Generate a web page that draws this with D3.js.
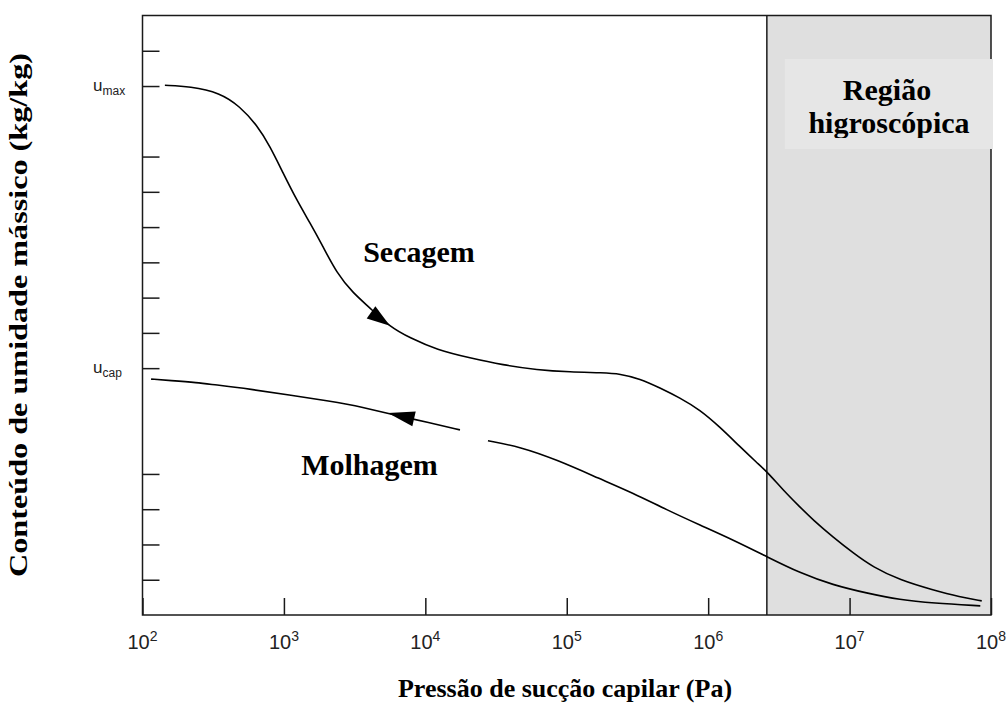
<!DOCTYPE html>
<html>
<head>
<meta charset="utf-8">
<script src="https://cdn.jsdelivr.net/npm/d3@7"></script>
<style>
  body { margin: 0; background: #fff; }
  svg { display: block; }
</style>
</head>
<body>
<svg id="chart" width="1007" height="706"></svg>
<script>
// Capillary suction pressure decades (Pa)
const xTickValues = [1e2, 1e3, 1e4, 1e5, 1e6, 1e7, 1e8];
const xTickExponents = ["2", "3", "4", "5", "6", "7", "8"];

// Moisture content ticks on a relative scale, with the two named levels
const yTickValues = [1, 2, 3, 4, 7, 8, 9, 10, 11, 12, 13, 15, 16];
const yNamedLevels = [15, 7];
const yNamedSub = ["max", "cap"];

// Start of the hygroscopic region (Pa)
const hygroscopicStart = 2.6e6;

// Drying curve (Secagem): pressure in Pa, moisture content
const dryingP = [144, 217, 353, 489, 642, 798, 984, 1230, 1528, 1888, 2360, 3078, 4062, 5623, 7793,
  12080, 20680, 35400, 61600, 105500, 180400, 237800, 329400, 456000, 630000, 873000,
  1.21e6, 1.68e6, 2.22e6, 2.61e6, 3.38e6, 4.46e6, 5.51e6, 7.63e6, 1.06e7, 1.46e7, 2.27e7,
  3.88e7, 6.03e7, 8.6e7];
const dryingU = [15.02, 14.99, 14.81, 14.42, 13.90, 13.29, 12.54, 11.77, 11.12, 10.45, 9.70, 9.13, 8.71, 8.17, 7.86,
  7.52, 7.29, 7.09, 6.95, 6.89, 6.87, 6.84, 6.70, 6.44, 6.16, 5.82,
  5.33, 4.77, 4.31, 4.06, 3.55, 3.06, 2.70, 2.21, 1.76, 1.36, 0.99,
  0.71, 0.51, 0.40];

// Wetting curve (Molhagem); the null marks the break in the line
const wettingP = [115, 157, 242, 335, 489, 2495, 3453, 5623, 10800, 17580, 22000,
  27730, 46700, 85300, 171800, 293800, 511000, 875000, 1.50e6, 2.61e6, 4.46e6, 7.63e6,
  1.32e7, 2.27e7, 3.88e7, 8.4e7];
const wettingU = [6.69, 6.65, 6.59, 6.52, 6.45, 6.02, 5.91, 5.70, 5.45, 5.25, null,
  4.94, 4.77, 4.40, 3.86, 3.46, 2.98, 2.55, 2.13, 1.65, 1.19, 0.85,
  0.62, 0.43, 0.34, 0.26];

// Direction arrows: [drying, wetting], from tail to tip
const arrowTailP = [4130, 8320];
const arrowTailU = [8.58, 5.56];
const arrowTipP = [5620, 5445];
const arrowTipU = [8.20, 5.73];

// Curve names and their label anchors (text centre, baseline)
const curveNames = ["Secagem", "Molhagem"];
const curveLabelP = [9020, 4030];
const curveLabelU = [10.0, 3.97];

const margin = { left: 142.5, right: 991, top: 15.5, bottom: 615 };
const svg = d3.select("#chart");

const x = d3.scaleLog().domain([1e2, 1e8]).range([margin.left, margin.right]);
const y = d3.scaleLinear().domain([0, 17]).range([margin.bottom, margin.top]);

const serif = "'Liberation Serif', 'Times New Roman', serif";
const sans = "'Liberation Sans', Arial, sans-serif";
const ink = "#1a1a1a";

// Hygroscopic region shading
svg.append("rect")
  .attr("x", x(hygroscopicStart))
  .attr("y", margin.top)
  .attr("width", x(1e8) - x(hygroscopicStart))
  .attr("height", margin.bottom - margin.top)
  .attr("fill", "#dfdfdf");

// Boundary of the hygroscopic region
svg.append("line")
  .attr("x1", x(hygroscopicStart)).attr("x2", x(hygroscopicStart))
  .attr("y1", margin.top).attr("y2", margin.bottom)
  .attr("stroke", ink).attr("stroke-width", 1.5);

// Plot frame
svg.append("rect")
  .attr("x", margin.left).attr("y", margin.top)
  .attr("width", margin.right - margin.left)
  .attr("height", margin.bottom - margin.top)
  .attr("fill", "none")
  .attr("stroke", ink).attr("stroke-width", 1.5);

// Axis ticks (drawn inward)
const xAxis = svg.append("g")
  .attr("transform", `translate(0,${margin.bottom})`)
  .call(d3.axisBottom(x).tickValues(xTickValues).tickSize(-17).tickFormat(""));
xAxis.select(".domain").remove();
xAxis.selectAll(".tick line").attr("stroke", ink).attr("stroke-width", 1.5);

const yAxis = svg.append("g")
  .attr("transform", `translate(${margin.left},0)`)
  .call(d3.axisLeft(y).tickValues(yTickValues).tickSize(-17).tickFormat(""));
yAxis.select(".domain").remove();
yAxis.selectAll(".tick line").attr("stroke", ink).attr("stroke-width", 1.5);

// X tick labels: 10 with exponent
const xLabels = svg.append("g")
  .attr("font-family", sans)
  .attr("fill", "#222");
xTickValues.forEach((v, i) => {
  const t = xLabels.append("text")
    .attr("x", x(v))
    .attr("y", 649)
    .attr("text-anchor", "middle")
    .attr("font-size", 20);
  t.append("tspan").text("10");
  t.append("tspan").attr("font-size", 14).attr("dy", -8).text(xTickExponents[i]);
});

// Named moisture levels on the y axis
yNamedLevels.forEach((v, i) => {
  const t = svg.append("text")
    .attr("x", 93)
    .attr("y", y(v) + 5)
    .attr("font-family", sans)
    .attr("fill", "#222")
    .attr("font-size", 17);
  t.append("tspan").text("u");
  t.append("tspan").attr("font-size", 12).attr("dy", 4).text(yNamedSub[i]);
});

const line = d3.line()
  .defined(d => d[1] !== null)
  .x(d => x(d[0]))
  .y(d => y(d[1]))
  .curve(d3.curveBasis);

svg.append("path")
  .datum(dryingP.map((p, i) => [p, dryingU[i]]))
  .attr("d", line)
  .attr("fill", "none")
  .attr("stroke", "#000")
  .attr("stroke-width", 1.6);

svg.append("path")
  .datum(wettingP.map((p, i) => [p, wettingU[i]]))
  .attr("d", line)
  .attr("fill", "none")
  .attr("stroke", "#000")
  .attr("stroke-width", 1.6);

// Arrowheads showing the direction of each process
arrowTipP.forEach((p, i) => {
  const tx = x(p), ty = y(arrowTipU[i]);
  const bx = x(arrowTailP[i]), by = y(arrowTailU[i]);
  const dx = tx - bx, dy = ty - by;
  const len = Math.hypot(dx, dy);
  const nx = -dy / len, ny = dx / len;
  const hw = 7.5;
  svg.append("path")
    .attr("d", `M${tx},${ty}L${bx + nx * hw},${by + ny * hw}L${bx - nx * hw},${by - ny * hw}Z`)
    .attr("fill", "#000");
});

// Curve labels
curveNames.forEach((name, i) => {
  svg.append("text")
    .attr("x", x(curveLabelP[i]))
    .attr("y", y(curveLabelU[i]))
    .attr("text-anchor", "middle")
    .attr("font-family", serif)
    .attr("font-weight", "bold")
    .attr("font-size", 30)
    .attr("fill", "#000")
    .text(name);
});

// Hygroscopic region label on a lighter panel
const boxX = x(hygroscopicStart) + 18;
svg.append("rect")
  .attr("x", boxX).attr("y", 59)
  .attr("width", margin.right + 2 - boxX).attr("height", 90)
  .attr("fill", "#e6e6e6");
svg.append("clipPath").attr("id", "region-label-clip")
  .append("rect")
  .attr("x", boxX).attr("y", 59)
  .attr("width", margin.right + 2 - boxX).attr("height", 79);
const regionLabel = svg.append("text")
  .attr("clip-path", "url(#region-label-clip)")
  .attr("text-anchor", "middle")
  .attr("font-family", serif)
  .attr("font-weight", "bold")
  .attr("font-size", 30)
  .attr("fill", "#000");
regionLabel.append("tspan").attr("x", 887).attr("y", 100).text("Região");
regionLabel.append("tspan").attr("x", 889).attr("y", 133).text("higroscópica");

// Axis titles
svg.append("text")
  .attr("x", 565).attr("y", 697)
  .attr("text-anchor", "middle")
  .attr("font-family", serif)
  .attr("font-weight", "bold")
  .attr("font-size", 26)
  .attr("fill", "#000")
  .text("Pressão de sucção capilar (Pa)");

svg.append("text")
  .attr("transform", "translate(27,315) rotate(-90)")
  .attr("text-anchor", "middle")
  .attr("font-family", serif)
  .attr("font-weight", "bold")
  .attr("font-size", 26)
  .attr("textLength", 524)
  .attr("lengthAdjust", "spacingAndGlyphs")
  .attr("fill", "#000")
  .text("Conteúdo de umidade mássico (kg/kg)");
</script>
</body>
</html>
